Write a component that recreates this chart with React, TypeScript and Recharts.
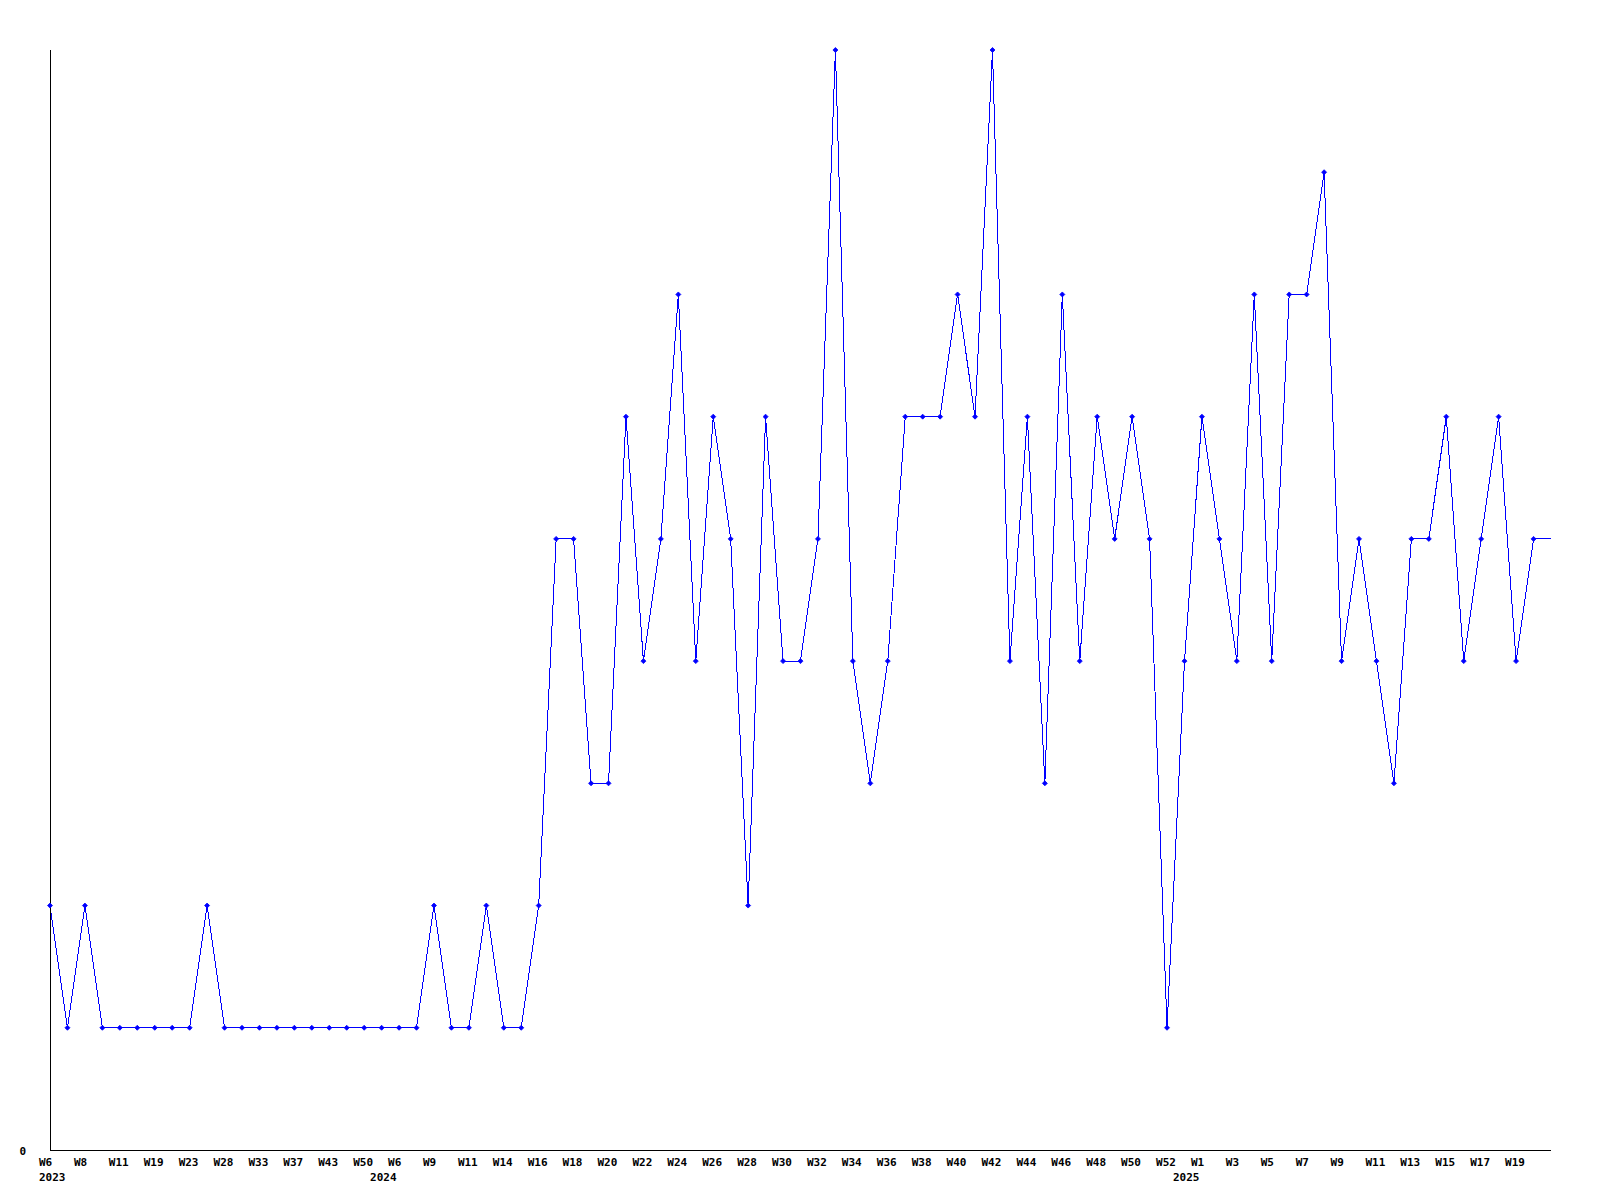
import React from 'react';
import { LineChart, Line, XAxis, YAxis } from 'recharts';

const weeks2023 = ['W6','W7','W8','W10','W11','W16','W19','W21','W23','W26','W28','W31','W33','W35','W37','W40','W43','W46','W50','W51'];
const weeks2024 = ['W6','W8','W9','W10','W11','W13','W14','W15','W16','W17','W18','W19','W20','W21','W22','W23','W24','W25','W26','W27','W28','W29','W30','W31','W32','W33','W34','W35','W36','W37','W38','W39','W40','W41','W42','W43','W44','W45','W46','W47','W48','W49','W50','W51','W52','W53'];
const weeks2025 = ['W1','W2','W3','W4','W5','W6','W7','W8','W9','W10','W11','W12','W13','W14','W15','W16','W17','W18','W19','W20','W21'];
const years = ['2023', '2024', '2025'];

const values2023 = [2,1,2,1,1,1,1,1,1,2,1,1,1,1,1,1,1,1,1,1];
const values2024 = [1,1,2,1,1,2,1,1,2,5,5,3,3,6,4,5,7,4,6,5,2,6,4,4,5,9,4,3,4,6,6,6,7,6,9,4,6,3,7,4,6,5,6,5,1,4];
const values2025 = [6,5,4,7,4,7,7,8,4,5,4,3,5,5,6,4,5,6,4,5,5];

const yTicks = [0];

type Row = { key: string; week: string; year: string; yearStart: boolean; value: number };

const build = (): Row[] => {
  const rows: Row[] = [];
  const groups: [string[], number[]][] = [[weeks2023, values2023], [weeks2024, values2024], [weeks2025, values2025]];
  groups.forEach(([wk, vals], g) => {
    wk.forEach((w, i) => {
      rows.push({ key: `${years[g]}-${w}`, week: w, year: years[g], yearStart: i === 0, value: vals[i] });
    });
  });
  return rows;
};

const data = build();

const FONT = '"DejaVu Sans Mono", monospace';

const XTick = (props: any) => {
  const { x, y, payload } = props;
  const idx = data.findIndex((d) => d.key === payload.value);
  if (idx < 0 || idx % 2 !== 0 || idx === data.length - 1) return null;
  const row = data[idx];
  return (
    <g>
      <text x={x - 11} y={y + 12} textAnchor="start" dominantBaseline="central" fontFamily={FONT} fontWeight="bold" fontSize={11} fill="#000">
        {row.week}
      </text>
      {row.yearStart && (
        <text x={idx === 0 ? x - 11 : x - 29} y={y + 27} textAnchor="start" dominantBaseline="central" fontFamily={FONT} fontWeight="bold" fontSize={11} fill="#000">
          {row.year}
        </text>
      )}
    </g>
  );
};

const YTick = (props: any) => {
  const { x, y, payload } = props;
  return (
    <text x={x - 24} y={y + 1} textAnchor="end" dominantBaseline="central" fontFamily={FONT} fontWeight="bold" fontSize={11} fill="#000">
      {payload.value}
    </text>
  );
};

const Dot = (props: any) => {
  const { cx, cy, index } = props;
  if (index === data.length - 1 || cx == null || cy == null) return <g key={`d${index}`} />;
  return (
    <path key={`d${index}`} d={`M${cx},${cy - 2.5}L${cx + 2.5},${cy}L${cx},${cy + 2.5}L${cx - 2.5},${cy}Z`} fill="#0000ff" stroke="#0000ff" strokeWidth={0.8} />
  );
};

export default function App() {
  return (
    <div style={{ width: 1584, height: 1184, background: '#fff' }}>
      <LineChart width={1584} height={1184} data={data} margin={{ top: 42, right: 41, bottom: 0, left: 0 }}>
        <XAxis
          dataKey="key"
          interval={0}
          height={42}
          tickLine={false}
          tickSize={0}
          tickMargin={0}
          axisLine={{ stroke: '#000', strokeWidth: 1, shapeRendering: 'crispEdges' }}
          tick={<XTick />}
        />
        <YAxis
          domain={[0, 9]}
          ticks={yTicks}
          width={42}
          tickLine={false}
          tickSize={0}
          tickMargin={0}
          axisLine={{ stroke: '#000', strokeWidth: 1, shapeRendering: 'crispEdges' }}
          tick={<YTick />}
        />
        <Line
          type="linear"
          dataKey="value"
          stroke="#0000ff"
          strokeWidth={1}
          shapeRendering="crispEdges"
          dot={<Dot />}
          activeDot={false}
          isAnimationActive={false}
        />
      </LineChart>
    </div>
  );
}
